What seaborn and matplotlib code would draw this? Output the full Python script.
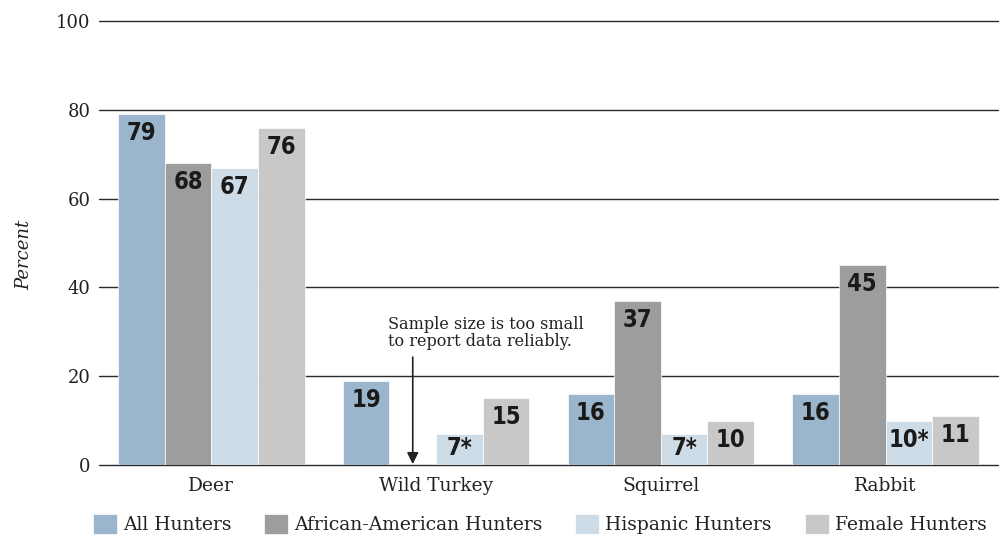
import numpy as np
import pandas as pd
import seaborn as sns
import matplotlib.pyplot as plt
from matplotlib import font_manager

# data
animals = ["Deer", "Wild Turkey", "Squirrel", "Rabbit"]
groups = ["All Hunters", "African-American Hunters", "Hispanic Hunters", "Female Hunters"]
all_hunters = [79, 19, 16, 16]
african_american = [68, np.nan, 37, 45]
hispanic = [67, 7, 7, 10]
female = [76, 15, 10, 11]
bar_text = {
    "All Hunters": ["79", "19", "16", "16"],
    "African-American Hunters": ["68", "", "37", "45"],
    "Hispanic Hunters": ["67", "7*", "7*", "10*"],
    "Female Hunters": ["76", "15", "10", "11"],
}
colors = ["#9bb6cc", "#9d9d9d", "#cedce7", "#c8c8c8"]

rows = []
for g, vals in zip(groups, [all_hunters, african_american, hispanic, female]):
    for a, v in zip(animals, vals):
        rows.append({"animal": a, "group": g, "pct": v})
df = pd.DataFrame(rows)

sns.set_style("white")
plt.rcParams["font.family"] = ["DejaVu Serif"]

# look for a narrow bold sans for the numbers in the bars
num_prop = None
for f in font_manager.fontManager.ttflist:
    narrow = ("Narrow" in f.name or "Condensed" in f.name
              or f.stretch in ("condensed", "semi-condensed", "extra-condensed"))
    bold = f.weight in ("bold", 700, "heavy", 800) or str(f.weight) == "700"
    if narrow and bold and "Serif" not in f.name and "Mono" not in f.name:
        num_prop = font_manager.FontProperties(fname=f.fname, size=17)
        break
if num_prop is None:
    num_prop = font_manager.FontProperties(family="Liberation Sans", weight="bold", size=16)

fig = plt.figure(figsize=(10.03, 5.37), dpi=100)
ax = fig.add_axes([0.0987, 0.1341, 0.8963, 0.8268])

sns.barplot(data=df, x="animal", y="pct", hue="group", order=animals,
            hue_order=groups, palette=colors, saturation=1, width=0.83, gap=0,
            edgecolor="white", linewidth=0.5, ax=ax, zorder=3)

# value labels inside the bars
bw = 0.83 / len(groups)
for j, g in enumerate(groups):
    vals = df[df.group == g].pct.tolist()
    for i, (txt, v) in enumerate(zip(bar_text[g], vals)):
        if not txt or np.isnan(v):
            continue
        y = max(v - 4.3, v * 0.55)
        ax.text(i + (j - 1.5) * bw, y, txt, ha="center", va="center",
                fontproperties=num_prop, color="#1a1a1a", zorder=4)

ax.set_ylim(0, 100)
ax.set_xlim(-0.5, 3.5)
ax.set_yticks([0, 20, 40, 60, 80, 100])
ax.yaxis.grid(True, color="#2a2a2a", linewidth=1.0, zorder=0)
for gl in ax.get_ygridlines():
    gl.set_clip_on(False)
ax.set_axisbelow(True)
for s in ax.spines.values():
    s.set_visible(False)
ax.tick_params(axis="y", length=0, pad=6, labelsize=13, colors="#222222")
ax.tick_params(axis="x", length=0, pad=9, labelsize=13.4, colors="#222222")
ax.set_xlabel("")
ax.set_ylabel("Percent", fontsize=13, fontstyle="italic", color="#222222")
ax.yaxis.set_label_coords(-0.073, 0.473)

# note for the missing bar
ax.annotate("", xy=(0.896, 0.2), xytext=(0.896, 24.3),
            arrowprops=dict(arrowstyle="-|>", color="#222222", lw=1.2,
                            mutation_scale=17, shrinkA=0, shrinkB=0))
ax.text(0.786, 33.6, "Sample size is too small\nto report data reliably.",
        ha="left", va="top", fontsize=11.6, color="#222222", linespacing=1.05)

ax.legend(loc="center left", bbox_to_anchor=(-0.0067, -0.133), ncol=4,
          frameon=False, fontsize=13.5, handlelength=1.28, handleheight=1.28,
          handletextpad=0.32, columnspacing=1.75, borderaxespad=0, borderpad=0,
          labelcolor="#222222")

fig.savefig("out.png", dpi=100)
